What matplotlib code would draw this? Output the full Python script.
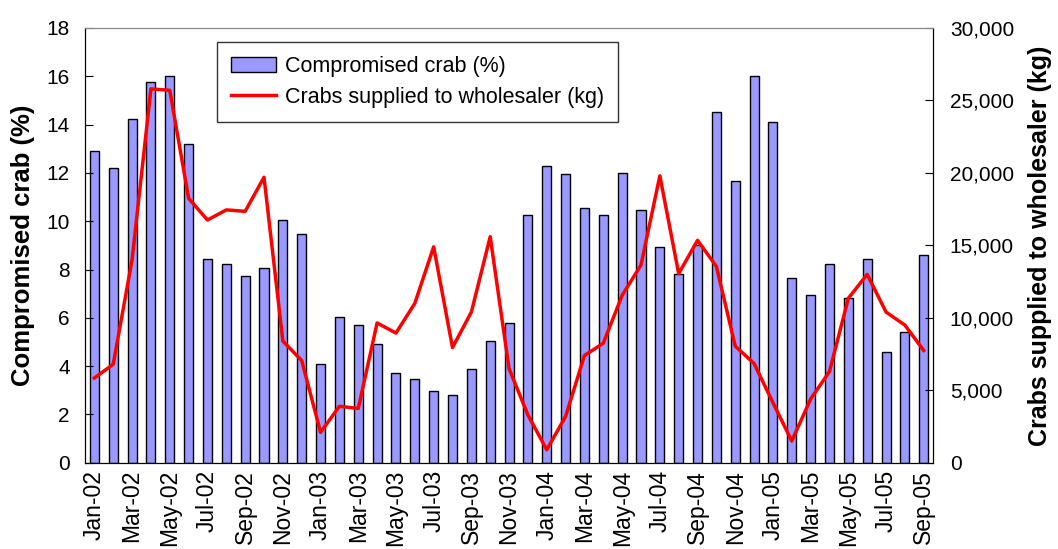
import matplotlib.pyplot as plt
import numpy as np

plt.rcParams['font.family'] = ['Liberation Sans', 'DejaVu Sans']

months = ['Jan-02', 'Feb-02', 'Mar-02', 'Apr-02', 'May-02', 'Jun-02', 'Jul-02', 'Aug-02', 'Sep-02', 'Oct-02', 'Nov-02', 'Dec-02',
          'Jan-03', 'Feb-03', 'Mar-03', 'Apr-03', 'May-03', 'Jun-03', 'Jul-03', 'Aug-03', 'Sep-03', 'Oct-03', 'Nov-03', 'Dec-03',
          'Jan-04', 'Feb-04', 'Mar-04', 'Apr-04', 'May-04', 'Jun-04', 'Jul-04', 'Aug-04', 'Sep-04', 'Oct-04', 'Nov-04', 'Dec-04',
          'Jan-05', 'Feb-05', 'Mar-05', 'Apr-05', 'May-05', 'Jun-05', 'Jul-05', 'Aug-05', 'Sep-05']

# compromised crab (%)
compromised = [12.9, 12.2, 14.25, 15.75, 16.0, 13.2, 8.45, 8.23, 7.73, 8.07, 10.05, 9.48,
               4.07, 6.05, 5.7, 4.93, 3.73, 3.45, 2.96, 2.82, 3.87, 5.05, 5.77, 10.26,
               12.3, 11.95, 10.55, 10.26, 12.01, 10.46, 8.93, 7.8, 9.0, 14.53, 11.66, 16.0,
               14.12, 7.66, 6.96, 8.23, 6.83, 8.45, 4.58, 5.41, 8.59]

# crabs supplied to wholesaler (kg)
supplied = [5850, 6800, 14000, 25800, 25700, 18250, 16750, 17450, 17350, 19700, 8400, 7050,
            2100, 3900, 3750, 9650, 8950, 11000, 14900, 7950, 10400, 15600, 6500, 3300,
            900, 3200, 7400, 8250, 11550, 13650, 19800, 13050, 15350, 13550, 8050, 6850,
            4150, 1500, 4400, 6300, 11350, 13000, 10400, 9500, 7750]

x = np.arange(len(months))

fig = plt.figure(figsize=(10.58, 5.49), dpi=100)
ax = fig.add_axes([0.0803, 0.157, 0.8017, 0.792])
ax2 = ax.twinx()

bars = ax.bar(x, compromised, width=0.48, color='#9999FF', edgecolor='black', linewidth=1.0)
line, = ax2.plot(x, supplied, color='#FF0000', linewidth=2.5)

ax.set_xlim(-0.5, len(months) - 0.5)
ax.set_ylim(0, 18)
ax.set_yticks(np.arange(0, 19, 2))
ax2.set_ylim(0, 30000)
ax2.set_yticks(np.arange(0, 30001, 5000))
ax2.set_yticklabels([f'{v:,}' for v in range(0, 30001, 5000)])

ax.set_xticks(x[::2])
ax.set_xticklabels(months[::2], rotation=90)
ax.tick_params(axis='x', length=0, labelsize=16.5, pad=5)
ax.tick_params(axis='y', direction='in', length=6, labelsize=15, pad=11)
ax2.tick_params(axis='y', direction='in', length=6, labelsize=15, pad=12)

ax.set_ylabel('Compromised crab (%)', fontsize=18.5, fontweight='bold', labelpad=8)
ax2.set_ylabel('Crabs supplied to wholesaler (kg)', fontsize=18, fontweight='bold', labelpad=10)

for a in (ax, ax2):
    a.spines['top'].set_color('#888888')
    a.spines['left'].set_color('black')
    a.spines['right'].set_color('black')
    a.spines['bottom'].set_color('black')

leg = ax2.legend([bars, line], ['Compromised crab (%)', 'Crabs supplied to wholesaler (kg)'],
                 loc='upper left', bbox_to_anchor=(0.156, 0.968), borderaxespad=0,
                 fontsize=15.5, fancybox=False, edgecolor='#333333', framealpha=1,
                 handlelength=2.1, handletextpad=0.4, borderpad=0.65, labelspacing=0.45)
leg.get_frame().set_linewidth(1.0)

fig.savefig('out.png', dpi=100)
